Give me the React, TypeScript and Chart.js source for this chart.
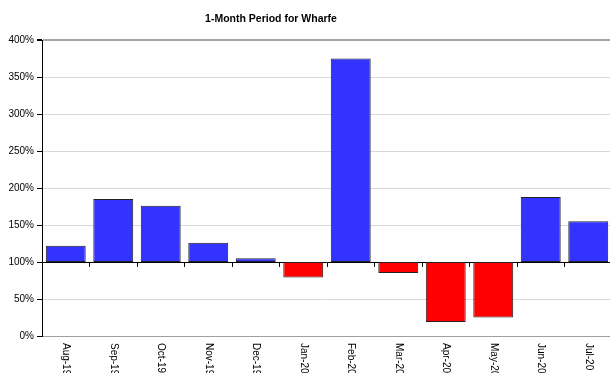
import React, { useEffect, useRef } from "react";
import { Chart, registerables } from "chart.js";

Chart.register(...registerables);

const categories = ["Aug-19", "Sep-19", "Oct-19", "Nov-19", "Dec-19", "Jan-20", "Feb-20", "Mar-20", "Apr-20", "May-20", "Jun-20", "Jul-20"];
const values = [122, 185, 176, 126, 105, 79, 375, 85, 19, 25, 188, 155];
const baseline = 100;
const yTicks = [0, 50, 100, 150, 200, 250, 300, 350, 400];
const titleText = "1-Month Period for Wharfe";

const FONT = '"Liberation Sans", Arial, sans-serif';

const rotatedLabels = {
  id: "rotatedLabels",
  afterDraw(chart: any) {
    const xs = chart.scales.x;
    const area = chart.chartArea;
    const ctx = chart.ctx;
    ctx.save();
    ctx.font = "10px " + FONT;
    ctx.fillStyle = "#000";
    ctx.textAlign = "left";
    ctx.textBaseline = "middle";
    categories.forEach((lab, i) => {
      const x = xs.getPixelForValue(i);
      ctx.save();
      ctx.translate(x, area.bottom + 7);
      ctx.rotate(Math.PI / 2);
      ctx.fillText(lab, 0, 0);
      ctx.restore();
    });
    ctx.restore();
  },
};

export default function App() {
  const ref = useRef<HTMLCanvasElement>(null);
  useEffect(() => {
    if (!ref.current) return;
    const chart = new Chart(ref.current, {
      type: "bar",
      data: {
        labels: categories,
        datasets: [
          {
            data: values.map((v) => [baseline, v]) as any,
            backgroundColor: values.map((v) => (v >= baseline ? "#3333FF" : "#FF0000")),
            borderColor: "#222",
            borderWidth: 1,
            borderSkipped: false,
            barPercentage: 0.84,
            categoryPercentage: 1,
          },
        ],
      },
      options: {
        responsive: false,
        animation: false,
        devicePixelRatio: 1,
        layout: { padding: { top: 40, right: 2, left: 0, bottom: 0 } },
        plugins: { legend: { display: false }, tooltip: { enabled: false }, title: { display: false } },
        scales: {
          x: {
            type: "category",
            position: "bottom",
            grid: { display: false },
            border: { display: true, color: "#a0a0a0", width: 1 },
            ticks: { display: false },
            afterFit: (s: any) => {
              s.height = 37;
            },
          },
          x2: {
            type: "category",
            position: { y: baseline } as any,
            z: 1,
            grid: { display: true, drawOnChartArea: false, drawTicks: true, tickLength: 4, offset: true, color: "#000", tickColor: "#000" },
            border: { display: true, color: "#000", width: 1 },
            ticks: { display: false },
          },
          y: {
            min: yTicks[0],
            max: yTicks[yTicks.length - 1],
            afterBuildTicks: (s: any) => {
              s.ticks = yTicks.map((v) => ({ value: v }));
            },
            afterFit: (s: any) => {
              s.width = 42;
            },
            grid: {
              color: (c: any) => (c.tick && c.tick.value === 400 ? "#a6a6a6" : c.tick && c.tick.value === 0 ? "#a0a0a0" : "#d9d9d9"),
              lineWidth: (c: any) => (c.tick && c.tick.value === 400 ? 2 : 1),
              tickColor: "#000",
              tickLength: 5,
            },
            border: { display: true, color: "#000", width: 1 },
            ticks: {
              padding: 3,
              color: "#000",
              font: { family: FONT, size: 10 },
              callback: (v: any) => v + "%",
            },
          },
        },
      },
      plugins: [rotatedLabels],
    });
    return () => chart.destroy();
  }, []);
  return (
    <div style={{ position: "absolute", left: 0, top: 0, width: 610, height: 373, overflow: "hidden", background: "#fff" }}>
      <canvas ref={ref} width={614} height={373} style={{ display: "block" }} />
      <div
        style={{
          position: "absolute",
          left: 0,
          top: 12,
          width: 542,
          textAlign: "center",
          fontFamily: FONT,
          fontWeight: "bold",
          fontSize: "10.5px",
          lineHeight: "12px",
          color: "#000",
        }}
      >
        {titleText}
      </div>
    </div>
  );
}
